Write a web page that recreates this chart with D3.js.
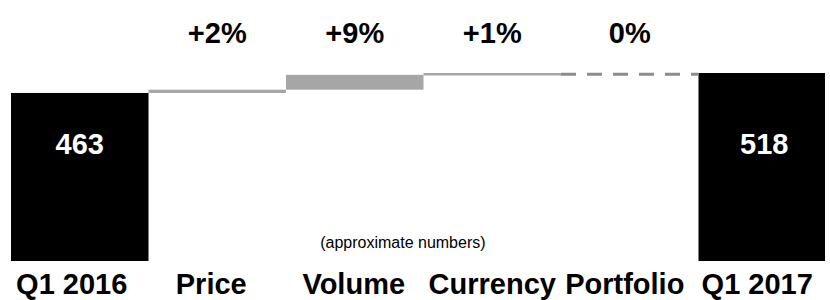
<!DOCTYPE html>
<html>
<head>
<meta charset="utf-8">
<script src="https://cdn.jsdelivr.net/npm/d3@7"></script>
<style>
  body { margin: 0; background: #fff; }
  text { font-family: "Liberation Sans", Arial, sans-serif; }
</style>
</head>
<body>
<div class="waterfall"></div>
<script>
// data
var categories = ["Q1 2016", "Price", "Volume", "Currency", "Portfolio", "Q1 2017"];
var startValue = 463;
var endValue = 518;
var deltas = [9, 41, 5, 0];               // Price, Volume, Currency, Portfolio
var pctLabels = ["+2%", "+9%", "+1%", "0%"];
var noteText = "(approximate numbers)";

// small horizontal nudges of the category labels, as in the original slide
var labelNudge = [-8, -6, -1, 0, -5, -10];

var width = 830, height = 300;

var svg = d3.select(".waterfall")
    .append("svg")
        .attr("width", width)
        .attr("height", height);

svg.append("clipPath")
    .attr("id", "plotClip")
  .append("rect")
    .attr("x", 0).attr("y", 0)
    .attr("width", 825).attr("height", height);

var x = d3.scaleBand()
    .domain(categories)
    .range([11, 836])
    .padding(0);

var y = d3.scaleLinear()
    .domain([0, endValue])
    .range([261, 73]);

// build the steps
var steps = [];
var running = startValue;
deltas.forEach(function(d, i) {
    steps.push({ cat: categories[i + 1], from: running, to: running + d, pct: pctLabels[i] });
    running += d;
});

var plot = svg.append("g").attr("clip-path", "url(#plotClip)");

// total bars
var totals = [
    { cat: categories[0], value: startValue },
    { cat: categories[categories.length - 1], value: endValue }
];

plot.selectAll(".total")
    .data(totals)
    .enter().append("rect")
        .attr("class", "total")
        .attr("x", function(d) { return x(d.cat); })
        .attr("width", x.bandwidth())
        .attr("y", function(d) { return y(d.value); })
        .attr("height", function(d) { return y(0) - y(d.value); })
        .attr("fill", "#000");

svg.selectAll(".totalLabel")
    .data(totals)
    .enter().append("text")
        .attr("class", "totalLabel")
        .attr("x", function(d) { return x(d.cat) + x.bandwidth() / 2 - (d.cat === "Q1 2017" ? 3 : 0); })
        .attr("y", 154)
        .attr("text-anchor", "middle")
        .attr("fill", "#fff")
        .attr("font-size", "29px")
        .attr("font-weight", "bold")
        .text(function(d) { return d.value; });

// floating delta bars
plot.selectAll(".step")
    .data(steps.filter(function(d) { return d.to !== d.from; }))
    .enter().append("rect")
        .attr("class", "step")
        .attr("x", function(d) { return x(d.cat); })
        .attr("width", x.bandwidth())
        .attr("y", function(d) { return y(Math.max(d.from, d.to)); })
        .attr("height", function(d) { return Math.max(2.5, Math.abs(y(d.from) - y(d.to))); })
        .attr("fill", "#a6a6a6");

// zero change -> dashed line
plot.selectAll(".flat")
    .data(steps.filter(function(d) { return d.to === d.from; }))
    .enter().append("line")
        .attr("class", "flat")
        .attr("x1", function(d) { return x(d.cat); })
        .attr("x2", function(d) { return x(d.cat) + x.bandwidth(); })
        .attr("y1", function(d) { return y(d.to) + 1.3; })
        .attr("y2", function(d) { return y(d.to) + 1.3; })
        .attr("stroke", "#8c8c8c")
        .attr("stroke-width", 3)
        .attr("stroke-dasharray", "15,11");

// percentage labels on top
svg.selectAll(".pct")
    .data(steps)
    .enter().append("text")
        .attr("class", "pct")
        .attr("x", function(d) { return x(d.cat) + x.bandwidth() / 2; })
        .attr("y", 43)
        .attr("text-anchor", "middle")
        .attr("font-size", "29px")
        .attr("font-weight", "bold")
        .attr("fill", "#000")
        .text(function(d) { return d.pct; });

// category labels at the bottom
svg.selectAll(".catLabel")
    .data(categories)
    .enter().append("text")
        .attr("class", "catLabel")
        .attr("x", function(d, i) { return x(d) + x.bandwidth() / 2 + labelNudge[i]; })
        .attr("y", 294)
        .attr("text-anchor", "middle")
        .attr("font-size", "29px")
        .attr("font-weight", "bold")
        .attr("fill", "#000")
        .text(function(d) { return d; });

// note
svg.append("text")
    .attr("x", x("Volume") + x.bandwidth() * 0.85)
    .attr("y", 248)
    .attr("text-anchor", "middle")
    .attr("font-size", "16px")
    .attr("fill", "#000")
    .text(noteText);
</script>
</body>
</html>
